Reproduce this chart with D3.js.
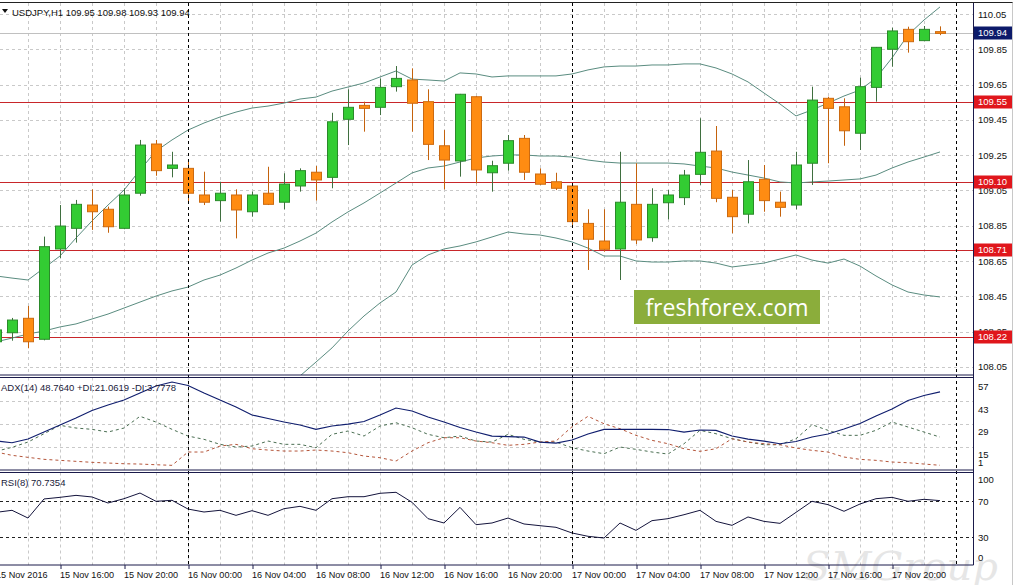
<!DOCTYPE html>
<html>
<head>
<meta charset="utf-8">
<script src="https://cdn.jsdelivr.net/npm/d3@7"></script>
<style>
  body { margin: 0; background: #fff; }
  svg { display: block; font-family: "Liberation Sans", Arial, sans-serif; }
</style>
</head>
<body>
<svg id="chart" width="1015" height="585"></svg>
<script>
// USDJPY H1, 15 Nov 12:00 .. 17 Nov 23:00 (one value per hour)
const open  = [108.192,108.243,108.325,108.206,108.718,108.835,108.967,108.943,108.835,109.034,
               109.313,109.175,109.175,109.024,108.992,109.024,108.929,109.034,108.983,109.075,
               109.153,109.124,109.453,109.532,109.521,109.638,109.676,109.553,109.303,109.217,
               109.581,109.150,109.204,109.345,109.143,109.099,109.075,108.863,108.763,108.718,
               108.971,108.782,108.980,109.009,109.141,109.273,109.011,108.915,109.113,108.983,
               108.967,109.204,109.572,109.524,109.374,109.634,109.850,109.963,109.899,109.950];
const high  = [108.280,108.327,108.395,108.788,108.967,108.996,109.056,108.958,109.062,109.336,
               109.336,109.269,109.222,109.156,109.099,109.056,109.043,109.184,109.147,109.175,
               109.188,109.490,109.623,109.553,109.685,109.755,109.742,109.623,109.392,109.597,
               109.585,109.218,109.364,109.364,109.175,109.150,109.077,108.943,108.943,109.269,
               109.204,109.062,109.052,109.166,109.459,109.415,109.052,109.222,109.194,109.043,
               109.269,109.638,109.581,109.572,109.689,109.863,109.972,109.978,109.982,109.980];
const low   = [108.170,108.198,108.155,108.200,108.665,108.754,108.826,108.810,108.830,109.020,
               109.133,109.124,108.986,108.967,108.873,108.778,108.901,108.967,108.943,109.043,
               108.992,109.062,109.307,109.383,109.477,109.610,109.383,109.222,109.056,109.128,
               109.090,109.043,109.162,109.109,109.081,109.052,108.844,108.599,108.703,108.542,
               108.746,108.759,108.886,108.967,109.081,108.983,108.807,108.863,108.929,108.901,
               108.943,109.081,109.204,109.303,109.279,109.553,109.751,109.831,109.899,109.930];
const close = [108.259,108.315,108.192,108.731,108.848,108.971,108.929,108.844,109.024,109.307,
               109.162,109.194,109.034,108.983,109.034,108.939,109.024,108.971,109.086,109.162,
               109.109,109.439,109.521,109.515,109.634,109.685,109.544,109.311,109.222,109.595,
               109.166,109.190,109.332,109.153,109.085,109.062,108.873,108.773,108.716,108.983,
               108.769,108.971,109.024,109.137,109.266,109.005,108.901,109.099,108.992,108.954,
               109.194,109.562,109.515,109.388,109.638,109.861,109.954,109.893,109.963,109.940];

// Bollinger bands
const bbUpper  = [108.565,108.553,108.542,108.610,108.678,108.780,108.877,108.967,109.052,109.166,
                  109.273,109.336,109.392,109.432,109.466,109.494,109.517,109.528,109.545,109.568,
                  109.579,109.613,109.636,109.659,109.693,109.727,109.681,109.676,109.670,109.716,
                  109.710,109.693,109.699,109.699,109.699,109.699,109.710,109.733,109.750,109.755,
                  109.755,109.761,109.761,109.767,109.767,109.744,109.710,109.665,109.602,109.540,
                  109.472,109.506,109.545,109.585,109.619,109.687,109.801,109.931,110.016,110.090];
const bbMiddle = [108.191,108.213,108.236,108.253,108.276,108.293,108.321,108.349,108.383,108.417,
                  108.451,108.480,108.502,108.542,108.570,108.610,108.655,108.695,108.723,108.763,
                  108.808,108.871,108.928,108.979,109.035,109.092,109.149,109.177,109.188,109.211,
                  109.234,109.245,109.251,109.251,109.245,109.245,109.239,109.222,109.211,109.205,
                  109.205,109.205,109.205,109.200,109.188,109.177,109.154,109.137,109.120,109.098,
                  109.092,109.098,109.103,109.109,109.115,109.137,109.177,109.211,109.239,109.268];
const bbLower  = [null,null,null,null,null,null,null,null,null,null,
                  null,null,null,null,null,null,null,null,107.913,107.998,
                  108.077,108.157,108.253,108.338,108.412,108.474,108.627,108.684,108.718,108.735,
                  108.758,108.786,108.814,108.803,108.797,108.780,108.758,108.723,108.678,108.678,
                  108.650,108.644,108.644,108.650,108.650,108.638,108.616,108.627,108.638,108.661,
                  108.684,108.655,108.638,108.661,108.621,108.565,108.514,108.474,108.457,108.446];

// ADX(14)
const adx     = [18.64,17.60,19.87,24.17,28.46,32.75,37.36,40.73,43.80,48.09,
                 52.39,54.84,52.69,48.09,43.80,39.50,34.60,32.45,30.30,28.46,
                 25.82,27.85,29.07,30.61,34.60,38.89,37.05,33.37,30.30,26.93,
                 24.17,21.71,21.40,21.10,18.03,17.42,19.26,22.94,25.82,25.82,
                 25.82,25.82,25.70,24.17,25.40,25.20,21.71,19.87,18.64,16.99,
                 18.34,21.10,22.94,26.01,29.38,33.98,38.28,43.49,46.56,48.76];
const plusDI  = [12.33,14.78,18.03,23.12,28.28,26.62,25.82,24.17,26.62,33.80,
                 30.30,25.82,21.71,19.69,16.62,14.96,15.58,18.64,16.62,16.62,
                 14.53,22.75,24.78,21.71,27.85,29.87,26.80,22.75,20.67,21.71,
                 18.64,18.03,22.75,19.69,18.03,18.03,14.53,12.51,10.85,14.96,
                 13.55,11.90,10.67,16.99,25.21,23.12,20.06,18.03,16.37,16.37,
                 20.06,28.64,25.21,22.14,22.14,25.21,30.30,27.23,24.17,21.06];
const minusDI = [11.90,9.87,8.64,7.42,6.80,6.19,5.58,5.15,4.72,4.53,
                 4.10,3.74,11.90,11.90,15.58,16.62,13.92,13.12,12.51,12.51,
                 13.12,12.51,11.47,9.44,8.40,6.37,12.51,17.60,20.67,20.67,
                 18.64,17.60,16.01,16.62,18.03,18.64,27.42,33.80,29.26,26.19,
                 22.14,19.07,16.99,13.92,12.33,13.92,20.06,18.03,16.99,16.37,
                 14.35,12.94,11.90,8.83,7.42,6.80,5.76,5.33,4.53,3.78];

// RSI(8)
const rsi = [57.7,60.0,51.4,72.6,74.4,76.6,74.8,68.1,72.9,79.2,
             70.0,71.1,61.4,58.1,60.0,54.4,59.6,54.4,61.8,64.4,
             60.0,72.9,75.1,75.1,78.9,80.0,68.9,50.7,45.9,63.3,
             44.0,45.9,51.4,44.8,42.9,41.1,34.8,31.1,29.2,45.9,
             37.7,48.5,50.7,55.1,60.0,47.7,43.3,52.6,47.7,45.5,
             57.7,70.0,66.3,58.9,67.0,72.9,74.4,70.0,72.2,70.74];

const priceTicks = [110.05,109.85,109.65,109.45,109.25,109.05,108.85,108.65,108.45,108.25,108.05];
const levelLines = [109.55,109.10,108.71,108.22];
const lastPrice = 109.94;
const adxTicks = [57,43,29,15,1];
const adxGrid = [43,29,15];
const rsiTicks = [100,70,30,0];
const rsiLevels = [70,30];

const mainTitle = "USDJPY,H1  109.95 109.98 109.93 109.94";
const adxTitle = "ADX(14) 48.7640 +DI:21.0619 -DI:3.7778";
const rsiTitle = "RSI(8) 70.7354";

// ---- layout
const plotR = 973;
const main = {top: 3, bottom: 375};
const pAdx = {top: 377.5, bottom: 470};
const pRsi = {top: 472.5, bottom: 565};

const t0 = new Date(Date.UTC(2016, 10, 15, 12));
const t1 = new Date(Date.UTC(2016, 10, 18, 0));
const times = d3.utcHour.range(t0, t1);

const x = d3.scaleUtc().domain([t0, t1]).range([-4, 956]);
const y = d3.scaleLinear().domain([108.05, 110.05]).range([366.8, 14]);
const yAdx = d3.scaleLinear().domain([1, 57]).range([469.8, 378.5]);
const yRsi = d3.scaleLinear().domain([0, 100]).range([564.3, 474.3]);

const svg = d3.select("#chart");
const defs = svg.append("defs");
[["clipMain", main], ["clipAdx", pAdx], ["clipRsi", pRsi]].forEach(([id, p]) => {
  defs.append("clipPath").attr("id", id).append("rect")
    .attr("x", 0).attr("y", p.top).attr("width", plotR).attr("height", p.bottom - p.top);
});

const gridColor = "#c9c9c9";
const gridTimes = d3.utcHour.every(2).range(t0, t1);
const dayStarts = d3.utcDay.range(new Date(Date.UTC(2016, 10, 15, 13)), new Date(Date.UTC(2016, 10, 18, 1)));

function panelGrid(p, hVals, scale) {
  const g = svg.append("g");
  g.selectAll("line.v").data(gridTimes).enter().append("line")
    .attr("x1", d => Math.round(x(d)) + 0.5).attr("x2", d => Math.round(x(d)) + 0.5)
    .attr("y1", p.top).attr("y2", p.bottom)
    .attr("stroke", gridColor).attr("stroke-dasharray", "3,3");
  g.selectAll("line.h").data(hVals).enter().append("line")
    .attr("x1", 0).attr("x2", plotR)
    .attr("y1", d => Math.round(scale(d)) + 0.5).attr("y2", d => Math.round(scale(d)) + 0.5)
    .attr("stroke", gridColor).attr("stroke-dasharray", "3,3");
}
panelGrid(main, priceTicks, y);
panelGrid(pAdx, adxGrid, yAdx);
panelGrid(pRsi, [], yRsi);

// faint watermark in the lower corner
svg.append("text").attr("x", 803).attr("y", 580)
  .attr("font-family", "DejaVu Serif").attr("font-style", "italic").attr("font-size", 40)
  .attr("fill", "#e6e6e6").text("SMGroup");

// ---- main panel
const gMain = svg.append("g").attr("clip-path", "url(#clipMain)");

gMain.append("line").attr("x1", 0).attr("x2", plotR)
  .attr("y1", Math.round(y(lastPrice)) + 0.5).attr("y2", Math.round(y(lastPrice)) + 0.5)
  .attr("stroke", "#c0c0c0");

gMain.selectAll("line.level").data(levelLines).enter().append("line")
  .attr("x1", 0).attr("x2", plotR)
  .attr("y1", d => Math.round(y(d)) + 0.5).attr("y2", d => Math.round(y(d)) + 0.5)
  .attr("stroke", "#c8262a").attr("stroke-width", 1.2);

const bandLine = d3.line()
  .defined(d => d.v !== null)
  .x(d => x(d.t)).y(d => y(d.v));
[bbUpper, bbMiddle, bbLower].forEach(arr => {
  gMain.append("path")
    .datum(arr.map((v, i) => ({t: times[i], v: v})))
    .attr("fill", "none").attr("stroke", "#5a8c80").attr("stroke-width", 1)
    .attr("d", bandLine);
});

const candles = times.map((t, i) => ({t: t, o: open[i], h: high[i], l: low[i], c: close[i]}));
const cg = gMain.selectAll("g.candle").data(candles).enter().append("g");
cg.append("line")
  .attr("x1", d => Math.round(x(d.t)) + 0.5).attr("x2", d => Math.round(x(d.t)) + 0.5)
  .attr("y1", d => y(d.h)).attr("y2", d => y(d.l))
  .attr("stroke", d => d.c >= d.o ? "#3f6f3f" : "#c4620c");
cg.append("rect")
  .attr("x", d => Math.round(x(d.t)) - 4.5).attr("width", 10)
  .attr("y", d => y(Math.max(d.o, d.c)))
  .attr("height", d => Math.max(1, y(Math.min(d.o, d.c)) - y(Math.max(d.o, d.c))))
  .attr("fill", d => d.c >= d.o ? "#33cc33" : "#ff8c12")
  .attr("stroke", d => d.c >= d.o ? "#2a8a2a" : "#cc6a10");

svg.append("text").attr("x", 12).attr("y", 15.5).attr("font-size", 9.5).attr("fill", "#111")
  .text(mainTitle);
svg.append("path").attr("d", "M2,9 L8,9 L5,13 Z").attr("fill", "#111");

// freshforex badge
svg.append("rect").attr("x", 634).attr("y", 290).attr("width", 186).attr("height", 34).attr("fill", "#8bad3b");
svg.append("text").attr("x", 727).attr("y", 316).attr("text-anchor", "middle")
  .attr("font-family", "'Open Sans', sans-serif").attr("font-size", 23).attr("fill", "#fff")
  .text("freshforex.com");

// ---- ADX panel
const gAdx = svg.append("g").attr("clip-path", "url(#clipAdx)");
const adxLine = arr => d3.line().x((d, i) => x(times[i])).y(d => yAdx(d))(arr);
gAdx.append("path").attr("d", adxLine(plusDI)).attr("fill", "none")
  .attr("stroke", "#4a6e52").attr("stroke-dasharray", "3,3");
gAdx.append("path").attr("d", adxLine(minusDI)).attr("fill", "none")
  .attr("stroke", "#b4553a").attr("stroke-dasharray", "3,3");
gAdx.append("path").attr("d", adxLine(adx)).attr("fill", "none")
  .attr("stroke", "#101e6e").attr("stroke-width", 1.2);
svg.append("text").attr("x", 1).attr("y", 390.5).attr("font-size", 9.5).attr("fill", "#1a1a3a")
  .text(adxTitle);

// ---- RSI panel
const gRsi = svg.append("g").attr("clip-path", "url(#clipRsi)");
gRsi.selectAll("line.lvl").data(rsiLevels).enter().append("line")
  .attr("x1", 0).attr("x2", plotR)
  .attr("y1", d => Math.round(yRsi(d)) + 0.5).attr("y2", d => Math.round(yRsi(d)) + 0.5)
  .attr("stroke", "#222").attr("stroke-dasharray", "3,3");
gRsi.append("path")
  .attr("d", d3.line().x((d, i) => x(times[i])).y(d => yRsi(d))(rsi))
  .attr("fill", "none").attr("stroke", "#14143c").attr("stroke-width", 1);
svg.append("text").attr("x", 1).attr("y", 485.5).attr("font-size", 9.5).attr("fill", "#1a1a3a")
  .text(rsiTitle);

// ---- period separators
svg.selectAll("line.day").data(dayStarts).enter().append("line")
  .attr("x1", d => Math.round(x(d)) + 0.5).attr("x2", d => Math.round(x(d)) + 0.5)
  .attr("y1", main.top).attr("y2", pRsi.bottom)
  .attr("stroke", "#000").attr("stroke-dasharray", "3,3");

// ---- frames
const frame = svg.append("g").attr("stroke", "#1a1a4a").attr("fill", "none");
frame.append("line").attr("x1", 0).attr("x2", 1013).attr("y1", 2.5).attr("y2", 2.5).attr("stroke", "#222");
frame.append("line").attr("x1", 1012.5).attr("x2", 1012.5).attr("y1", 2.5).attr("y2", 585).attr("stroke", "#c8c8c8");
[main.bottom, pAdx.top, pAdx.bottom, pRsi.top, pRsi.bottom].forEach(v => {
  frame.append("line").attr("x1", 0).attr("x2", plotR + 0.5).attr("y1", v).attr("y2", v);
});
frame.append("line").attr("x1", plotR + 0.5).attr("x2", plotR + 0.5).attr("y1", main.top).attr("y2", pRsi.bottom);

// ---- price axis
const priceAxis = svg.append("g").attr("transform", `translate(${plotR},0)`)
  .call(d3.axisRight(y).tickValues(priceTicks).tickSize(0).tickPadding(5).tickFormat(d3.format(".2f")))
  .call(g => g.select(".domain").remove());
priceAxis.selectAll("text").attr("font-size", 9.5).attr("font-family", "Liberation Sans, Arial").attr("fill", "#111");

function tagBox(v, fill) {
  const yy = Math.round(y(v));
  svg.append("rect").attr("x", plotR + 1).attr("y", yy - 6.5).attr("width", 38).attr("height", 13).attr("fill", fill);
  svg.append("text").attr("x", plotR + 5).attr("y", yy).attr("dy", "0.35em")
    .attr("font-size", 9.5).attr("fill", "#fff").text(d3.format(".2f")(v));
}
levelLines.forEach(v => tagBox(v, "#e0161c"));
tagBox(lastPrice, "#0c1a6a");

// ---- indicator scales
svg.selectAll("text.adxTick").data(adxTicks).enter().append("text")
  .attr("x", plotR + 5)
  .attr("y", d => Math.min(yAdx(d) + 8, pAdx.bottom - 7))
  .attr("dy", "0.35em").attr("font-size", 9.5).attr("fill", "#111").text(d => d);
svg.selectAll("text.rsiTick").data(rsiTicks).enter().append("text")
  .attr("x", plotR + 5)
  .attr("y", d => Math.max(pRsi.top + 7, Math.min(yRsi(d), pRsi.bottom - 7)))
  .attr("dy", "0.35em").attr("font-size", 9.5).attr("fill", "#111").text(d => d);

// ---- time axis
const fmtFirst = d3.utcFormat("%d %b %Y"), fmtRest = d3.utcFormat("%d %b %H:%M");
const timeAxis = svg.append("g").attr("transform", `translate(0.5,${pRsi.bottom})`)
  .call(d3.axisBottom(x).tickValues(d3.utcHour.every(4).range(t0, t1)).tickSize(4).tickPadding(3)
    .tickFormat((d, i) => i === 0 ? fmtFirst(d) : fmtRest(d)))
  .call(g => g.select(".domain").remove());
timeAxis.selectAll("line").attr("stroke", "#1a1a4a");
timeAxis.selectAll("text").attr("text-anchor", "start").attr("x", -1)
  .attr("font-size", 9.1).attr("font-family", "Liberation Sans, Arial").attr("fill", "#111");
</script>
</body>
</html>
